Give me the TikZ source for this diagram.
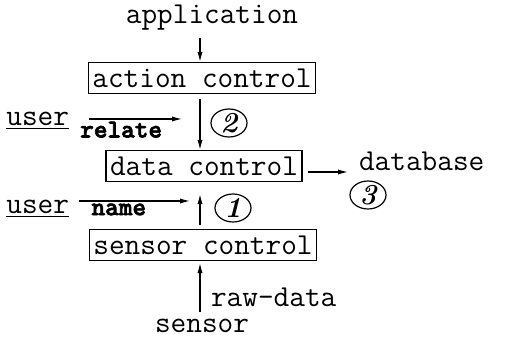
\documentclass[tikz,border=0pt]{standalone}
\usepackage{fontspec}
\newfontface\cmdfont{lmmonolt10-bold.otf}[FakeBold=2.5]
\usetikzlibrary{arrows.meta,shapes.geometric,positioning}

\begin{document}
\begin{tikzpicture}[x=0.5pt,y=-0.5pt,
    font=\ttfamily\fontsize{15.2}{17}\selectfont,
    ctrl/.style={draw,line width=0.6pt,inner xsep=2pt,inner ysep=0pt,minimum height=15.5pt},
    flow/.style={-{Latex[length=5pt,width=2.6pt]},line width=0.6pt},
    cmd/.style={font=\cmdfont\fontsize{13}{15}\selectfont,inner sep=1pt},
    stepno/.style={ellipse,draw,line width=0.6pt,minimum width=18pt,minimum height=14pt,inner sep=0pt,font=\rmfamily\bfseries\itshape\fontsize{14.5}{14.5}\selectfont}]
  \useasboundingbox (0,0) rectangle (518,340);
  \coordinate (axis) at (200,0);
  % control boxes
  \node[ctrl] (act) at (202,78) {action control};
  \node[ctrl] (dat) at (204,166) {data control};
  \node[ctrl] (sen) at (203,245) {sensor control};
  % outer ends
  \node (app) at (212,18) {application};
  \node[anchor=west] (db) at (352,161) {database};
  \node (sensor) at (202,326) {sensor};
  \node[anchor=west] (raw) at (204,297) {raw-data};
  \node[anchor=west,inner sep=1pt] (usr1) at (4,121) {\underline{user}};
  \node[anchor=west,inner sep=1pt] (usr2) at (4,209) {\underline{user}};
  \coordinate (relend) at (182,119);
  \coordinate (namend) at (190,201);
  % steps
  \node[stepno] (s2) at (229,123) {2};
  \node[stepno] (s3) at (368,195) {3};
  \node[stepno] (s1) at (233,208) {1};
  % flows
  \draw[flow] (app.south -| axis) -- (act.north -| axis);
  \draw[flow,shorten <=2.5pt] (act.south -| axis) -- (dat.north -| axis);
  \draw[flow,shorten <=2pt,shorten >=6pt] (sen.north -| axis) -- (dat.south -| axis);
  \draw[flow,shorten >=1pt] (sensor.north -| axis) -- (sen.south -| axis);
  \draw[flow,shorten <=2.5pt,shorten >=2pt] ([yshift=-3pt]dat.east) -- ([yshift=-3pt]dat.east -| db.west);
  \draw[flow,shorten <=9pt] (usr1.east |- relend) -- node[cmd,below,pos=0.45]{relate} (relend);
  \draw[flow,shorten <=4pt] (usr2.east |- namend) -- node[cmd,below,pos=0.4]{name} (namend);
\end{tikzpicture}
\end{document}
